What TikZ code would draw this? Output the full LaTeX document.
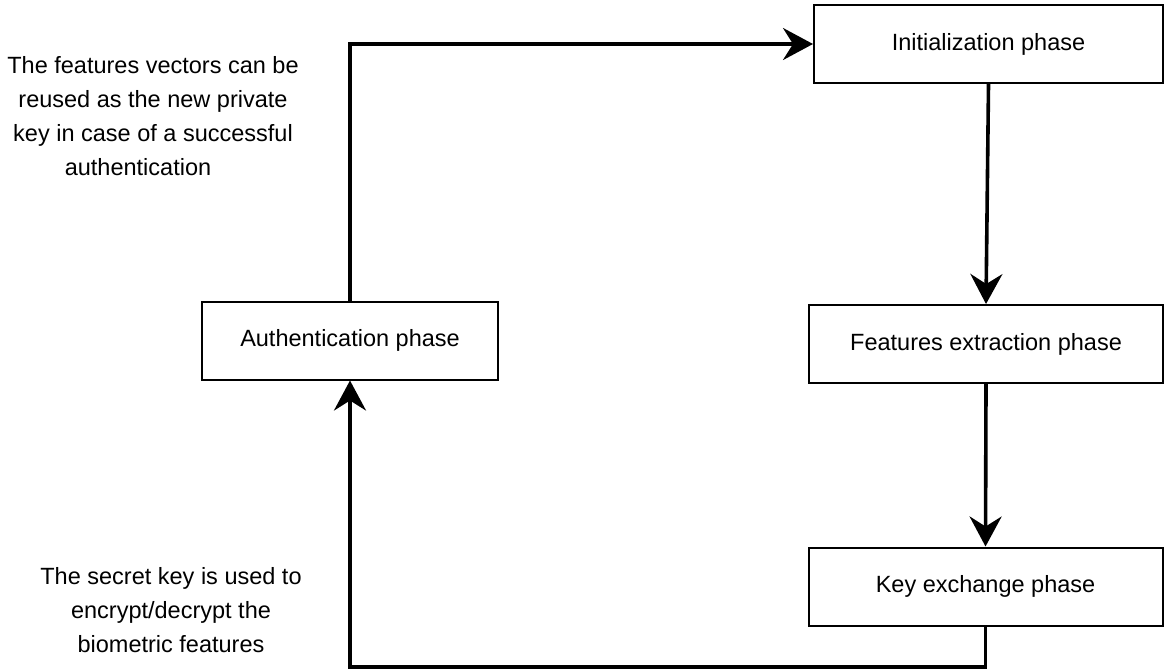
\documentclass[tikz,border=0pt]{standalone}
\usepackage{fontspec}
\setmainfont{Liberation Sans}
\usetikzlibrary{arrows.meta}

\begin{document}
\begin{tikzpicture}[x=0.5pt, y=-0.5pt,
  phase/.style={rectangle, draw, line width=1pt, minimum height=39pt, font=\fontsize{11.75}{17}\selectfont},
  note/.style={align=center, font=\fontsize{11.75}{17}\selectfont},
  flow/.style={line width=1.8pt, -{Stealth[length=15pt, width=16pt, inset=5pt]}}]
  \useasboundingbox (0,0) rectangle (1165,671);
  \node[phase, minimum width=174.5pt] (init) at (988.5, 44) {Initialization phase};
  \node[phase, minimum width=177pt] (feat) at (986, 344) {Features extraction phase};
  \node[phase, minimum width=177pt] (key) at (985.5, 586.5) {Key exchange phase};
  \node[phase, minimum width=148pt] (auth) at (350, 340.5) {Authentication phase};
  \node[note] (reuse) at (153, 116) {The features vectors can be\\reused as the new private\\key in case of a successful\\authentication\hspace*{15pt}};
  \node[note] (secret) at (171, 610) {The secret key is used to\\encrypt/decrypt the\\biometric features};
  \coordinate (bend) at (350, 667);
  \draw[flow] (init.south) -- (feat.north);
  \draw[flow] (feat.south) -- (key.north);
  \draw[flow] (key.south) |- (bend) -- (auth.south);
  \draw[flow] (auth.north) |- (init.west);
\end{tikzpicture}
\end{document}
